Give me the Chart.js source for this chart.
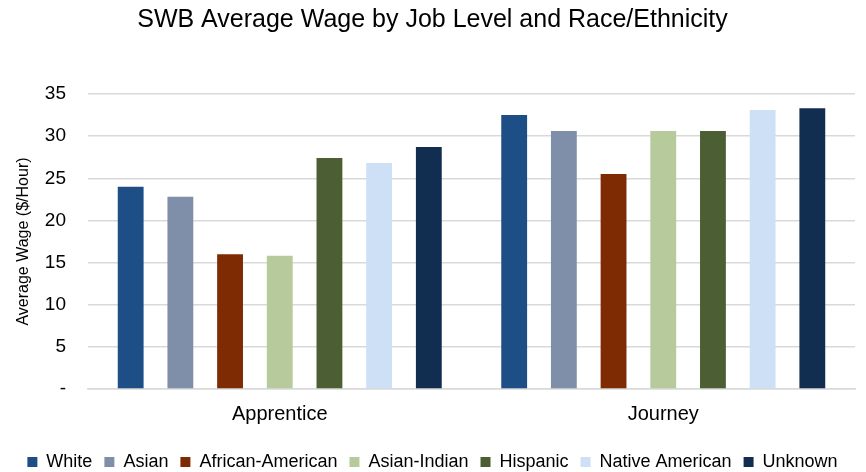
<!DOCTYPE html>
<html>
<head>
<meta charset="utf-8">
<script src="https://cdn.jsdelivr.net/npm/chart.js@4"></script>
<style>
  body { margin: 0; background: #fff; }
  #wrap { width: 866px; height: 472px; }
</style>
</head>
<body>
<div id="wrap"><canvas id="wage-chart"></canvas></div>
<script>
// Chart data
const jobLevels = ['Apprentice', 'Journey'];
const groups = ['White', 'Asian', 'African-American', 'Asian-Indian', 'Hispanic', 'Native American', 'Unknown'];
const white = [24.0, 32.5];
const asian = [22.8, 30.6];
const africanAmerican = [16.0, 25.5];
const asianIndian = [15.8, 30.6];
const hispanic = [27.4, 30.6];
const nativeAmerican = [26.8, 33.1];
const unknown = [28.7, 33.3];
const yTicks = [0, 5, 10, 15, 20, 25, 30, 35];

const seriesValues = [white, asian, africanAmerican, asianIndian, hispanic, nativeAmerican, unknown];
const colors = ['#1d4e85', '#808fa9', '#7e2b03', '#b7ca9b', '#4b5e34', '#cde0f6', '#112e51'];

const ctx = document.getElementById('wage-chart').getContext('2d');
new Chart(ctx, {
    type: 'bar',
    data: {
        labels: jobLevels,
        datasets: groups.map((g, i) => ({
            label: g,
            data: seriesValues[i],
            backgroundColor: colors[i],
            categoryPercentage: 0.907,
            barPercentage: 0.52,
        }))
    },
    options: {
        responsive: true,
        maintainAspectRatio: false,
        animation: false,
        layout: { padding: { left: 10, right: 11, top: 0, bottom: -9 } },
        plugins: {
            title: {
                display: true,
                text: 'SWB Average Wage by Job Level and Race/Ethnicity',
                color: '#000',
                font: { family: 'Liberation Sans', size: 25, weight: 'normal' },
                padding: { top: 5, bottom: 59 }
            },
            legend: {
                position: 'bottom',
                labels: {
                    color: '#000',
                    boxWidth: 10,
                    boxHeight: 10,
                    padding: 12,
                    font: { family: 'Liberation Sans', size: 18 }
                }
            },
            tooltip: { enabled: false }
        },
        scales: {
            x: {
                grid: { display: false },
                border: { color: '#d9d9d9', width: 1.5 },
                afterFit: axis => { axis.height = 52; },
                ticks: { color: '#000', font: { family: 'Liberation Sans', size: 20 }, padding: 5 }
            },
            y: {
                min: 0,
                max: 35,
                afterBuildTicks: axis => { axis.ticks = yTicks.map(v => ({ value: v })); },
                afterFit: axis => { axis.width = 78; },
                grid: { color: '#d9d9d9', lineWidth: 1.5, drawTicks: false },
                border: { display: false },
                ticks: {
                    color: '#000',
                    padding: 22,
                    font: { family: 'Liberation Sans', size: 19 },
                    callback: v => v === 0 ? '-' : v
                },
                title: {
                    display: true,
                    text: 'Average Wage ($/Hour)',
                    color: '#000',
                    font: { family: 'Liberation Sans', size: 16 },
                    padding: { top: 4, bottom: 4 }
                }
            }
        }
    }
});
</script>
</body>
</html>
